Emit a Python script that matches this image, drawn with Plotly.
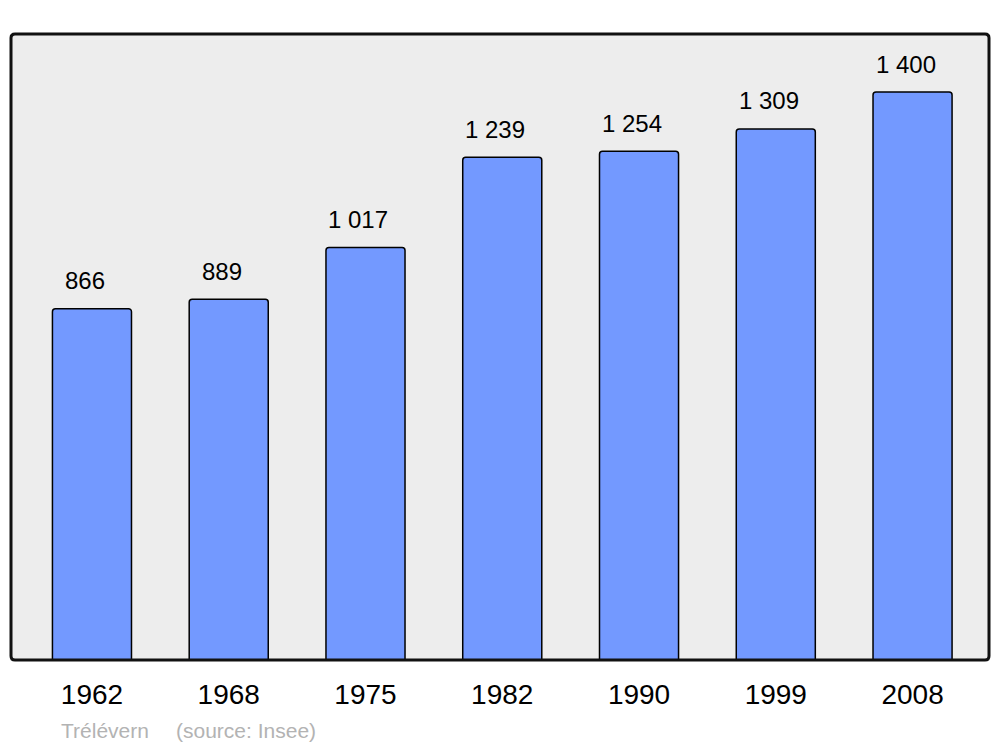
import plotly.graph_objects as go

years = ["1962", "1968", "1975", "1982", "1990", "1999", "2008"]
population = [866, 889, 1017, 1239, 1254, 1309, 1400]
commune = "Trélévern"
source = "(source: Insee)"

FONT = "Liberation Sans, Arial, sans-serif"
idx = list(range(len(years)))

fig = go.Figure()
fig.add_trace(go.Bar(
    x=idx, y=population, width=0.578,
    marker=dict(color="#7399ff", line=dict(color="#000000", width=1.5), cornerradius=3),
    hoverinfo="skip",
))

for i, v in zip(idx, population):
    fig.add_annotation(
        x=i, y=v, xref="x", yref="y",
        text=f"{v:,}".replace(",", " "),
        showarrow=False, yanchor="middle", xanchor="center",
        yshift=28, xshift=-7,
        font=dict(family=FONT, size=24, color="#000000"),
    )

fig.add_annotation(
    xref="paper", yref="paper", x=(59 - 11) / 978, y=-(730 - 660) / 626,
    xanchor="left", yanchor="middle", text=commune, showarrow=False,
    font=dict(family=FONT, size=21, color="#b3b3b3"),
)
fig.add_annotation(
    xref="paper", yref="paper", x=(174 - 11) / 978, y=-(730 - 660) / 626,
    xanchor="left", yanchor="middle", text=source, showarrow=False,
    font=dict(family=FONT, size=21, color="#b3b3b3"),
)

# rounded frame around the plot area (paper coords)
rx, ry = 4 / 978, 4 / 626
path = (
    f"M {rx},0 L {1-rx},0 Q 1,0 1,{ry} L 1,{1-ry} Q 1,1 {1-rx},1 "
    f"L {rx},1 Q 0,1 0,{1-ry} L 0,{ry} Q 0,0 {rx},0 Z"
)
fig.add_shape(
    type="path", xref="paper", yref="paper", path=path,
    line=dict(color="#111111", width=3), layer="above",
)

fig.update_layout(
    width=992, height=739,
    margin=dict(l=3, r=11, t=26, b=87),
    paper_bgcolor="#ffffff", plot_bgcolor="#ededed",
    showlegend=False,
    xaxis=dict(
        range=[-0.592, 6.559], tickmode="array", tickvals=idx, ticktext=years,
        showgrid=False, zeroline=False, showline=False, ticks="",
        ticklabelstandoff=15,
        tickfont=dict(family=FONT, size=28, color="#000000"),
        fixedrange=True,
    ),
    yaxis=dict(
        range=[0, 1543], showgrid=False, zeroline=False, showline=False,
        showticklabels=False, ticks="", fixedrange=True,
    ),
)

fig.write_html("out.html")
